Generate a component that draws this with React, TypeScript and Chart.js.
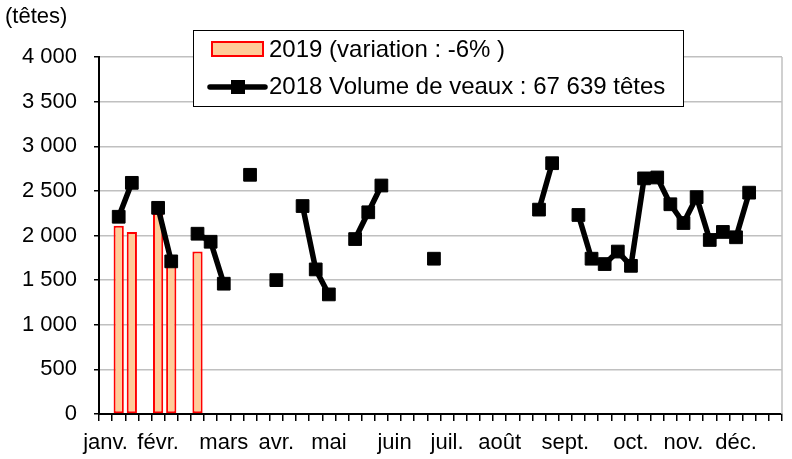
import React, { useEffect, useRef } from "react";
import { Chart, registerables } from "chart.js";

Chart.register(...registerables);

const monthLabels: [number, string][] = [
  [0, "janv."], [4, "févr."], [9, "mars"], [13, "avr."], [17, "mai"], [22, "juin"],
  [26, "juil."], [30, "août"], [35, "sept."], [40, "oct."], [44, "nov."], [48, "déc."],
];
const weekCount = 52;
const categories: string[] = Array.from({ length: weekCount }, (_, i) => {
  const m = monthLabels.find((e) => e[0] === i);
  return m ? m[1] : "";
});

const values2019: (number | null)[] = [
  null, 2110, 2040, null, 2250, 1700, null, 1820, null, null,
  null, null, null, null, null, null, null, null, null, null,
  null, null, null, null, null, null, null, null, null, null,
  null, null, null, null, null, null, null, null, null, null,
  null, null, null, null, null, null, null, null, null, null,
  null, null,
];

const values2018: (number | null)[] = [
  null, 2210, 2590, null, 2310, 1710, null, 2020, 1930, 1460,
  null, 2680, null, 1500, null, 2330, 1620, 1340, null, 1960,
  2260, 2560, null, null, null, 1740, null, null, null, null,
  null, null, null, 2290, 2810, null, 2230, 1740, 1680, 1820,
  1660, 2640, 2650, 2350, 2140, 2430, 1950, 2040, 1980, 2480,
  null, null,
];

const yTicks: number[] = [0, 500, 1000, 1500, 2000, 2500, 3000, 3500, 4000];

const label2019 = "2019 (variation : -6% )";
const label2018 = "2018 Volume de veaux : 67 639 têtes";
const unitLabel = "(têtes)";

const FONT_FAMILY = '"Liberation Sans", Arial, sans-serif';
const BAR_FILL = "#FFCC99";
const BAR_BORDER = "#FF0000";

const fmt = (v: number) => String(v).replace(/\B(?=(\d{3})+(?!\d))/g, " ");

const overlayPlugin = {
  id: "overlay",
  afterDraw(chart: any) {
    const ctx = chart.ctx as CanvasRenderingContext2D;
    const area = chart.chartArea;
    ctx.save();
    // right border of plot area
    ctx.strokeStyle = "#c0c0c0";
    ctx.lineWidth = 1.5;
    ctx.beginPath();
    ctx.moveTo(area.right, area.top);
    ctx.lineTo(area.right, area.bottom);
    ctx.stroke();

    // unit label
    ctx.fillStyle = "#000";
    ctx.font = `22px ${FONT_FAMILY}`;
    ctx.textAlign = "left";
    ctx.textBaseline = "middle";
    ctx.fillText(unitLabel, 5, 17);

    // legend box
    const bx = 193.5, by = 30.5, bw = 490, bh = 76;
    ctx.fillStyle = "#fff";
    ctx.fillRect(bx, by, bw, bh);
    ctx.strokeStyle = "#000";
    ctx.lineWidth = 1;
    ctx.strokeRect(bx, by, bw, bh);

    // entry 1: bar swatch
    ctx.fillStyle = BAR_FILL;
    ctx.fillRect(212, 42, 51, 14);
    ctx.strokeStyle = BAR_BORDER;
    ctx.lineWidth = 2;
    ctx.strokeRect(212, 42, 51, 14);

    // entry 2: line sample
    ctx.strokeStyle = "#000";
    ctx.lineWidth = 5.5;
    ctx.lineCap = "round";
    ctx.beginPath();
    ctx.moveTo(210, 87);
    ctx.lineTo(265, 87);
    ctx.stroke();
    ctx.fillStyle = "#000";
    ctx.fillRect(231, 80, 14, 14);

    ctx.fillStyle = "#000";
    ctx.font = `24px ${FONT_FAMILY}`;
    ctx.textBaseline = "middle";
    ctx.fillText(chart.data.datasets[1].label, 269, 50);
    ctx.fillText(chart.data.datasets[0].label, 269, 87);
    ctx.restore();
  },
};

export default function App() {
  const ref = useRef<HTMLCanvasElement | null>(null);

  useEffect(() => {
    if (!ref.current) return;
    const chart = new Chart(ref.current, {
      type: "bar",
      data: {
        labels: categories,
        datasets: [
          {
            type: "line",
            label: label2018,
            data: values2018,
            borderColor: "#000",
            backgroundColor: "#000",
            borderWidth: 5.5,
            borderCapStyle: "round",
            borderJoinStyle: "round",
            pointStyle: "rect",
            pointRadius: 9,
            pointBorderWidth: 1,
            pointBackgroundColor: "#000",
            pointBorderColor: "#000",
            spanGaps: false,
            tension: 0,
            order: 0,
          } as any,
          {
            type: "bar",
            label: label2019,
            data: values2019,
            backgroundColor: BAR_FILL,
            borderColor: BAR_BORDER,
            borderWidth: 2,
            borderSkipped: false,
            barPercentage: 0.78,
            categoryPercentage: 1,
            order: 1,
          } as any,
        ],
      },
      options: {
        responsive: false,
        animation: false,
        layout: { padding: { left: 0, top: 57, right: 6, bottom: 0 } },
        plugins: {
          legend: { display: false },
          tooltip: { enabled: false },
          title: { display: false },
        },
        scales: {
          x: {
            type: "category",
            offset: true,
            grid: {
              display: true,
              drawOnChartArea: false,
              drawTicks: true,
              tickLength: 7,
              tickColor: "#000",
              lineWidth: 1.5,
              offset: true,
            },
            border: { display: true, color: "#000", width: 2 },
            ticks: {
              autoSkip: false,
              maxRotation: 0,
              minRotation: 0,
              padding: 9,
              color: "#000",
              font: { size: 22, family: FONT_FAMILY },
            },
            afterFit: (scale: any) => {
              scale.height = 45;
            },
          },
          y: {
            min: yTicks[0],
            max: yTicks[yTicks.length - 1],
            afterBuildTicks: (scale: any) => {
              scale.ticks = yTicks.map((v) => ({ value: v }));
            },
            grid: {
              color: "#c0c0c0",
              lineWidth: 1.5,
              tickColor: "#000",
              tickLength: 5,
              drawTicks: true,
            },
            border: { display: true, color: "#000", width: 2 },
            ticks: {
              padding: 17,
              color: "#000",
              font: { size: 22, family: FONT_FAMILY },
              callback: (v: any) => fmt(Number(v)),
            },
            afterFit: (scale: any) => {
              scale.width = 99;
            },
          },
        },
      },
      plugins: [overlayPlugin],
    });
    return () => chart.destroy();
  }, []);

  return (
    <div style={{ position: "fixed", left: 0, top: 0, width: 792, height: 459, background: "#fff" }}>
      <canvas ref={ref} width={792} height={459} style={{ display: "block" }} />
    </div>
  );
}
